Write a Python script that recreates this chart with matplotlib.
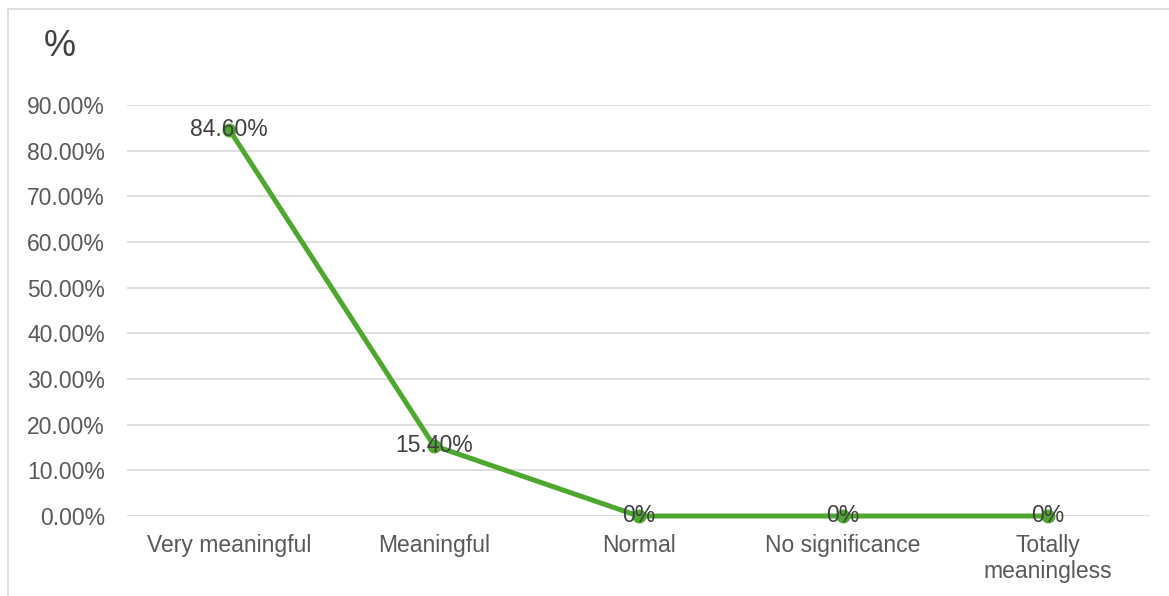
import matplotlib
matplotlib.use("Agg")
import matplotlib.pyplot as plt
from matplotlib.lines import Line2D
from matplotlib.ticker import FuncFormatter, MultipleLocator

categories = ["Very meaningful", "Meaningful", "Normal", "No significance", "Totally\nmeaningless"]
values = [84.6, 15.4, 0.0, 0.0, 0.0]
value_labels = ["84.60%", "15.40%", "0%", "0%", "0%"]
y_max = 90

plt.rcParams['font.family'] = ['Liberation Sans', 'DejaVu Sans']

W, H = 1169, 596
fig = plt.figure(figsize=(W / 100, H / 100), dpi=100)
ax = fig.add_axes([127 / W, 1 - 516 / H, (1150 - 127) / W, (516 - 105) / H])

x = list(range(len(categories)))
green = "#4ea72e"
ax.plot(x, values, color=green, linewidth=3.6, marker="o", markersize=9,
        solid_capstyle="round", zorder=3, clip_on=False)

for xi, v, lab in zip(x, values, value_labels):
    ax.text(xi, v, lab, ha="center", va="center", fontsize=16.5,
            color="#404040", zorder=4)

ax.set_xlim(-0.5, len(categories) - 0.5)
ax.set_ylim(0, y_max)
ax.yaxis.set_major_locator(MultipleLocator(10))
ax.yaxis.set_major_formatter(FuncFormatter(lambda v, p: f"{v:.2f}%"))
ax.set_xticks(x)
ax.set_xticklabels(categories)

ax.grid(axis="y", color="#d9d9d9", linewidth=1.2)
ax.set_axisbelow(True)
for s in ax.spines.values():
    s.set_visible(False)
ax.tick_params(axis="both", length=0, labelsize=16.5, labelcolor="#595959")
ax.tick_params(axis="y", pad=16)
ax.tick_params(axis="x", pad=13)
for t in ax.get_xticklabels():
    t.set_linespacing(1.15)

fig.text(60 / W, 1 - 47 / H, "%", ha="center", va="center", fontsize=26,
         color="#404040")

# outer chart frame (left and top edges)
fig.add_artist(Line2D([7.5 / W, 7.5 / W], [0, 1 - 9 / H], transform=fig.transFigure,
                      color="#d9d9d9", linewidth=1.2))
fig.add_artist(Line2D([7.5 / W, 1], [1 - 9 / H, 1 - 9 / H], transform=fig.transFigure,
                      color="#d9d9d9", linewidth=1.2))

fig.savefig("out.png", dpi=100)
